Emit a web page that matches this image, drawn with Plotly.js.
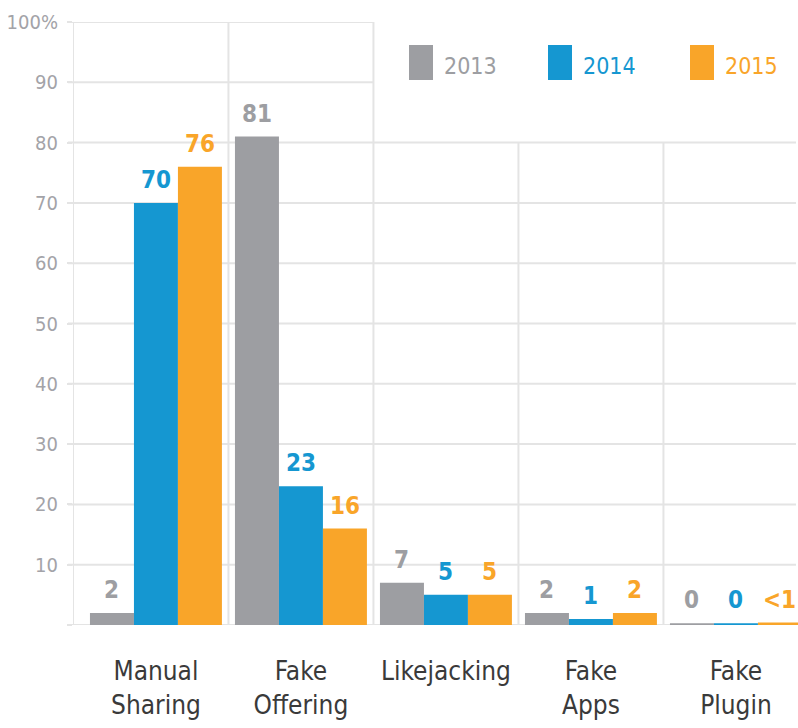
<!DOCTYPE html>
<html>
<head>
<meta charset="utf-8">
<script src="https://cdn.plot.ly/plotly-3.0.1.min.js"></script>
<style>html,body{margin:0;padding:0;background:#fff;}#chart{width:798px;height:728px;}</style>
</head>
<body>
<div id="chart"></div>
<script>
// ---- data ----
const categories = ['Manual<br>Sharing', 'Fake<br>Offering', 'Likejacking', 'Fake<br>Apps', 'Fake<br>Plugin'];
const years = ['2013', '2014', '2015'];
const v2013 = [2, 81, 7, 2, 0.3];
const v2014 = [70, 23, 5, 1, 0.3];
const v2015 = [76, 16, 5, 2, 0.4];
const lbl2013 = ['2', '81', '7', '2', '0'];
const lbl2014 = ['70', '23', '5', '1', '0'];
const lbl2015 = ['76', '16', '5', '2', '&lt;1'];
const yTickVals = [0, 10, 20, 30, 40, 50, 60, 70, 80, 90, 100];
const yTickText = ['', '10', '20', '30', '40', '50', '60', '70', '80', '90', '100%'];

// ---- styling ----
const colors = ['#9d9ea2', '#1597d1', '#f9a529'];
const narrow = 'DejaVu Sans Condensed, Liberation Sans, sans-serif';
const gridColor = '#e4e4e4';
const W = 798, H = 728, ML = 73, MR = 0, MT = 22, MB = 103;
const PW = W - ML - MR, PH = H - MT - MB;
const xr = [-0.572, -0.572 + PW / 145];
const bargap = 0.09;
const barW = (1 - bargap) / 3;

const values = [v2013, v2014, v2015];
const labels = [lbl2013, lbl2014, lbl2015];
const xs = categories.map((c, i) => i);

const traces = years.map((y, s) => ({
  type: 'bar', name: y, x: xs, y: values[s],
  marker: {color: colors[s], line: {width: 0}},
  hoverinfo: 'skip', showlegend: false
}));

const annotations = [];
years.forEach((y, s) => {
  xs.forEach((x, i) => {
    annotations.push({
      x: x + (s - 1) * barW, y: values[s][i], xref: 'x', yref: 'y',
      text: '<b>' + labels[s][i] + '</b>', showarrow: false,
      yanchor: 'bottom', yshift: 7,
      font: {family: narrow, size: 24, color: colors[s]}
    });
  });
});

// legend built from years/colors
const pxX = p => (p - ML) / PW;
const pxY = p => (H - MB - p) / PH;
const legendSquareLeft = [409, 548, 690];
const shapes = [];
years.forEach((y, s) => {
  shapes.push({type: 'rect', xref: 'paper', yref: 'paper',
    x0: pxX(legendSquareLeft[s]), x1: pxX(legendSquareLeft[s] + 24),
    y0: pxY(80), y1: pxY(45), fillcolor: colors[s], line: {width: 0}});
  annotations.push({xref: 'paper', yref: 'paper', x: pxX(legendSquareLeft[s] + 33), y: pxY(66),
    xanchor: 'left', yanchor: 'middle', text: y, showarrow: false,
    font: {family: narrow, size: 23, color: colors[s]}});
});

// grid lines
yTickVals.forEach(v => {
  shapes.push({type: 'line', layer: 'below', xref: 'paper', yref: 'y',
    x0: -5 / PW, x1: v > 80 ? pxX(374) : pxX(796), y0: v, y1: v,
    line: {color: gridColor, width: 2}});
});
[[xr[0], 100], [0.5, 100], [1.5, 100], [2.5, 80], [3.5, 80]].forEach(([x, top]) => {
  shapes.push({type: 'line', layer: 'below', xref: 'x', yref: 'y',
    x0: x, x1: x, y0: 0, y1: top, line: {color: gridColor, width: 2}});
});

const layout = {
  width: W, height: H,
  margin: {l: ML, r: MR, t: MT, b: MB, pad: 0},
  paper_bgcolor: '#fff', plot_bgcolor: 'rgba(0,0,0,0)',
  barmode: 'group', bargap: bargap, bargroupgap: 0,
  showlegend: false,
  xaxis: {range: xr, tickvals: xs, ticktext: categories, showgrid: false, zeroline: false,
    showline: false, ticks: '', ticklabelstandoff: 28,
    tickfont: {family: narrow, size: 26, color: '#3a3a3a'}, fixedrange: true},
  yaxis: {range: [0, 100], tickvals: yTickVals, ticktext: yTickText, showgrid: false,
    zeroline: false, showline: false, ticks: 'outside', ticklen: 5, tickcolor: gridColor, tickwidth: 2,
    ticklabelstandoff: 5,
    tickfont: {family: narrow, size: 20, color: '#a3a3a8'}, fixedrange: true},
  shapes: shapes, annotations: annotations
};

Plotly.newPlot('chart', traces, layout, {displayModeBar: false, staticPlot: true});
</script>
</body>
</html>
